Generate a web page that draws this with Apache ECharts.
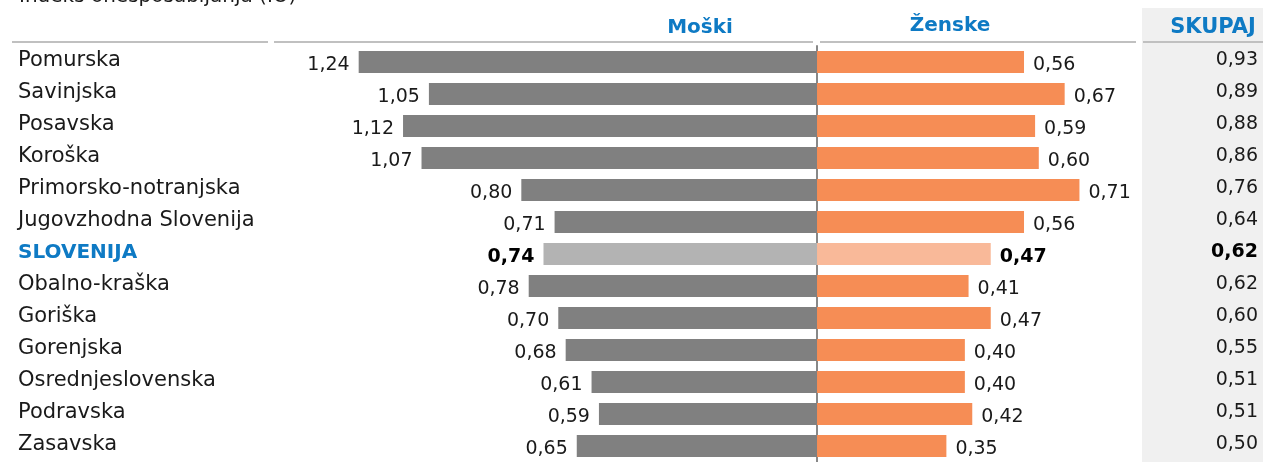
<!DOCTYPE html>
<html>
<head>
<meta charset="utf-8">
<script src="https://cdn.jsdelivr.net/npm/echarts@6/dist/echarts.min.js"></script>
<style>
html,body{margin:0;padding:0;background:#fff;}
#chart{width:1263px;height:462px;}
</style>
</head>
<body>
<div id="chart"></div>
<script>
const categories = ['Pomurska','Savinjska','Posavska','Koroška','Primorsko-notranjska','Jugovzhodna Slovenija','SLOVENIJA','Obalno-kraška','Goriška','Gorenjska','Osrednjeslovenska','Podravska','Zasavska'];
const men =   [1.24,1.05,1.12,1.07,0.80,0.71,0.74,0.78,0.70,0.68,0.61,0.59,0.65];
const women = [0.56,0.67,0.59,0.60,0.71,0.56,0.47,0.41,0.47,0.40,0.40,0.42,0.35];
const total = [0.93,0.89,0.88,0.86,0.76,0.64,0.62,0.62,0.60,0.55,0.51,0.51,0.50];
const headers = ['Moški','Ženske','SKUPAJ'];
const titleText = 'Indeks onesposabljanja (IO)';
const highlight = 'SLOVENIJA';

const FONT = 'DejaVu Sans';
const BLUE = '#0E7AC4';
const fmt = v => Math.abs(v).toFixed(2).replace('.', ',');
const isHi = i => categories[i] === highlight;

const chart = echarts.init(document.getElementById('chart'));

const gridLeft = 336.5, gridRight = 1131.2;

const option = {
  animation: false,
  backgroundColor: '#fff',
  graphic: [
    {type:'rect', z:-1, silent:true, shape:{x:1142,y:8,width:121,height:454}, style:{fill:'#F0F0F0'}},
    {type:'line', silent:true, shape:{x1:12,y1:42,x2:268,y2:42}, style:{stroke:'#C0C0C0',lineWidth:2}},
    {type:'line', silent:true, shape:{x1:274,y1:42,x2:813,y2:42}, style:{stroke:'#C0C0C0',lineWidth:2}},
    {type:'line', silent:true, shape:{x1:820,y1:42,x2:1136,y2:42}, style:{stroke:'#C0C0C0',lineWidth:2}},
    {type:'line', silent:true, shape:{x1:1143,y1:42,x2:1263,y2:42}, style:{stroke:'#C0C0C0',lineWidth:2}},
    {type:'text', silent:true, x:19, y:-3, style:{text:titleText, fontFamily:FONT, fontSize:20, fill:'#1a1a1a', textVerticalAlign:'middle'}},
    {type:'text', silent:true, x:700, y:28, style:{text:headers[0], fontFamily:FONT, fontSize:20, fontWeight:'bold', fill:BLUE, textAlign:'center', textVerticalAlign:'middle'}},
    {type:'text', silent:true, x:950, y:26, style:{text:headers[1], fontFamily:FONT, fontSize:20, fontWeight:'bold', fill:BLUE, textAlign:'center', textVerticalAlign:'middle'}},
    {type:'text', silent:true, x:1213, y:28, style:{text:headers[2], fontFamily:FONT, fontSize:21, fontWeight:'bold', fill:BLUE, textAlign:'center', textVerticalAlign:'middle'}}
  ],
  grid: {left: gridLeft, top: 46, width: gridRight - gridLeft, height: 420, containLabel: false},
  xAxis: {type:'value', min:-1.3, max:0.85, show:false},
  yAxis: [
    {type:'category', inverse:true, data:categories,
     axisLine:{show:true, onZero:true, lineStyle:{color:'#888', width:2}},
     axisTick:{show:false}, axisLabel:{show:false}, splitLine:{show:false}},
    {type:'category', inverse:true, data:categories, position:'left',
     axisLine:{show:false, onZero:false}, axisTick:{show:false}, splitLine:{show:false},
     axisLabel:{align:'left', margin:gridLeft-18, fontFamily:FONT, fontSize:21, color:'#1a1a1a',
       padding:[0,0,3,0],
       formatter:(v)=> v===highlight ? '{h|'+v+'}' : v,
       rich:{h:{fontFamily:FONT, fontSize:20, fontWeight:'bold', color:BLUE}}}},
    {type:'category', inverse:true, data:categories, position:'right',
     axisLine:{show:false, onZero:false}, axisTick:{show:false}, splitLine:{show:false},
     axisLabel:{align:'right', margin:1258-gridRight, fontFamily:FONT, fontSize:19, color:'#1a1a1a',
       padding:[0,0,3,0],
       formatter:(v,i)=> isHi(i) ? '{b|'+fmt(total[i])+'}' : fmt(total[i]),
       rich:{b:{fontFamily:FONT, fontSize:19, fontWeight:'bold', color:'#000'}}}}
  ],
  series: [
    {type:'bar', name:'Moški', yAxisIndex:0, barWidth:22, barGap:'-100%',
     data: men.map((v,i)=>({value:-v, itemStyle:{color: isHi(i)?'#B3B3B3':'#808080'},
       label: isHi(i)?{fontWeight:'bold', color:'#000'}:undefined})),
     label:{show:true, position:'left', distance:9, offset:[0,3], fontFamily:FONT, fontSize:19, color:'#1a1a1a',
       formatter:p=>fmt(p.value)}},
    {type:'bar', name:'Ženske', yAxisIndex:0, barWidth:22, barGap:'-100%',
     data: women.map((v,i)=>({value:v, itemStyle:{color: isHi(i)?'#F9B999':'#F68D55'},
       label: isHi(i)?{fontWeight:'bold', color:'#000'}:undefined})),
     label:{show:true, position:'right', distance:9, offset:[0,3], fontFamily:FONT, fontSize:19, color:'#1a1a1a',
       formatter:p=>fmt(p.value)}}
  ]
};
chart.setOption(option);
</script>
</body>
</html>
